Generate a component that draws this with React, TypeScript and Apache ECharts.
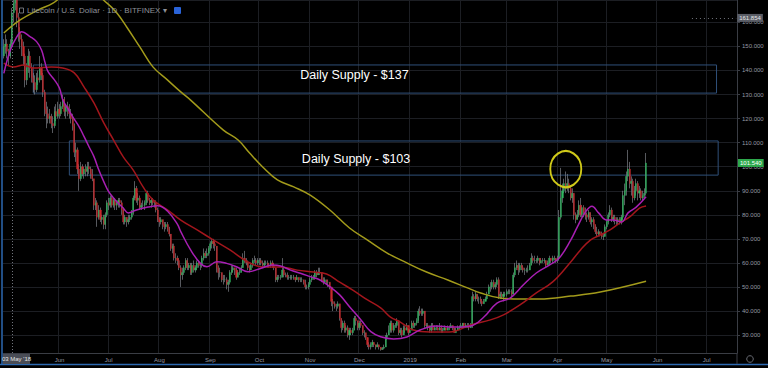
import React, { useEffect, useRef } from "react";
import * as echarts from "echarts";

// ---------- axis range ----------
const FIRST_DAY = "2018-04-28";
const LAST_DAY = "2019-07-19";
const Y_MIN = 22.54;
const Y_MAX = 169.31;

// month tick labels on the time axis
const monthTicks: [string, string][] = [
  ["2018-06-01", "Jun"], ["2018-07-01", "Jul"], ["2018-08-01", "Aug"], ["2018-09-01", "Sep"],
  ["2018-10-01", "Oct"], ["2018-11-01", "Nov"], ["2018-12-01", "Dec"], ["2019-01-01", "2019"],
  ["2019-02-01", "Feb"], ["2019-03-01", "Mar"], ["2019-04-01", "Apr"], ["2019-05-01", "May"],
  ["2019-06-01", "Jun"], ["2019-07-01", "Jul"],
];

// ---------- daily candles, starting 2018-04-28 (open = previous close) ----------
const firstOpen = 146;
const closes: number[] = [
  // Apr 28 - May 2 2018
  150, 151, 148, 146, 151,
  // May
  164, 168, 170, 162, 156, 153, 150, 146, 136, 141, 146, 141, 137, 135, 132, 137, 136, 141, 138, 131, 124, 122, 120, 121, 118, 117, 123, 121, 124,
  // Jun
  122, 125, 128, 123, 125, 124, 122, 120, 117, 106, 107, 99, 95, 100, 97, 99, 98, 100, 99, 97, 95, 84, 85, 79, 82, 78, 79, 76, 80, 85,
  // Jul
  84, 87, 84, 86, 84, 85, 86, 85, 82, 77, 79, 77, 78, 79, 81, 87, 91, 86, 87, 83, 84, 84, 85, 89, 86, 85, 86, 85, 85, 82, 78,
  // Aug
  77, 78, 76, 75, 76, 74, 72, 66, 67, 62, 62, 61, 58, 55, 56, 58, 61, 58, 59, 56, 59, 57, 58, 60, 59, 59, 62, 64, 63, 64, 66,
  // Sep
  68, 69, 68, 67, 58, 56, 56, 53, 53, 53, 51, 52, 56, 57, 58, 57, 54, 56, 56, 58, 62, 61, 60, 58, 57, 59, 61, 61, 60, 61,
  // Oct
  61, 60, 59, 60, 60, 59, 59, 60, 59, 58, 53, 54, 54, 54, 57, 55, 55, 54, 54, 54, 54, 54, 53, 54, 53, 53, 53, 52, 50, 50, 51,
  // Nov
  53, 54, 54, 56, 55, 56, 56, 53, 52, 53, 52, 52, 50, 44, 43, 42, 42, 43, 37, 33, 35, 32, 33, 30, 32, 31, 32, 37, 36, 33,
  // Dec
  35, 34, 31, 31, 29, 26, 25, 26, 27, 26, 25, 26, 25, 24, 24.5, 25, 29, 30, 32, 35, 32, 34, 34, 36, 31, 32, 30, 33, 32, 34, 31,
  // Jan 2019
  32, 35, 34, 35, 36, 40, 39, 39, 40, 34, 34, 33, 32, 34, 32, 33, 33, 32, 33, 32, 32, 33, 32, 33, 33, 34, 33, 31, 32, 33, 33,
  // Feb
  34, 35, 33, 34, 34, 33, 34, 46, 45, 47, 45, 45, 44, 43, 44, 45, 47, 50, 50, 52, 50, 51, 53, 46, 47, 46, 47, 47,
  // Mar
  48, 48, 48, 47, 55, 58, 59, 57, 59, 58, 57, 57, 57, 57, 59, 62, 61, 61, 61, 62, 60, 61, 61, 61, 59, 60, 62, 61, 62, 62, 61,
  // Apr
  62, 79, 87, 90, 93, 91, 93, 91, 87, 89, 80, 78, 80, 84, 80, 83, 81, 80, 79, 81, 77, 78, 76, 73, 72, 73, 72, 71, 71, 75,
  // May
  77, 80, 82, 78, 79, 78, 77, 78, 77, 79, 88, 90, 96, 99, 93, 94, 87, 90, 93, 89, 90, 87, 88, 89, 101.54,
];
const highs: number[] = [
  153, 155, 153, 149, 153,
  166, 172, 175, 171, 164, 158, 155, 152, 147, 143, 149, 148, 143, 139, 138, 139, 140, 146, 143, 139, 132, 127, 125, 124, 122, 121, 125, 126, 127,
  126, 127, 130, 129, 126, 127, 126, 124, 122, 118, 110, 108, 101, 102, 101, 100, 101, 102, 102, 100, 99, 95, 87, 86, 84, 83, 80, 80, 81, 86,
  87, 88, 88, 87, 87, 86, 87, 87, 86, 83, 80, 79, 80, 80, 82, 88, 94, 92, 89, 88, 85, 86, 86, 90, 90, 87, 87, 87, 86, 86, 83,
  79, 79, 78, 77, 77, 77, 75, 72, 68, 68, 64, 63, 62, 59, 58, 59, 62, 62, 60, 60, 60, 61, 59, 61, 61, 60, 63, 66, 65, 66, 67,
  69, 70, 70, 69, 67, 59, 58, 56, 55, 55, 54, 53, 57, 59, 59, 58, 58, 57, 58, 59, 64, 65, 62, 61, 59, 60, 62, 63, 62, 62,
  62, 62, 61, 61, 61, 61, 60, 61, 61, 60, 58, 55, 55, 55, 62, 58, 56, 56, 55, 55, 55, 55, 54, 55, 54, 54, 54, 53, 53, 51, 52,
  54, 55, 55, 57, 57, 58, 58, 56, 54, 54, 53, 53, 52, 50, 45, 44, 43, 44, 43, 37, 36, 36, 34, 34, 33, 33, 33, 38, 38, 36,
  36, 36, 34, 32, 31, 29, 27, 27, 28, 27, 26, 27, 26, 25, 25, 26, 30, 31, 34, 36, 36, 35, 35, 37, 36, 33, 33, 34, 34, 35, 34,
  33, 36, 36, 35, 37, 41, 42, 41, 41, 40, 35, 35, 34, 35, 35, 34, 34, 34, 35, 34, 33, 34, 33, 34, 34, 35, 34, 33, 33, 34, 34,
  35, 35, 35, 35, 35, 35, 35, 48, 47, 48, 47, 46, 46, 45, 45, 46, 48, 51, 52, 53, 53, 52, 54, 54, 48, 48, 48, 48,
  49, 49, 49, 49, 56, 60, 61, 60, 60, 60, 59, 58, 58, 59, 60, 64, 63, 63, 62, 63, 62, 62, 62, 62, 61, 61, 63, 62, 63, 63, 62,
  63, 82, 99.5, 93, 95, 98, 97, 95, 92, 91, 89, 81, 82, 86, 87, 84, 84, 83, 81, 82, 81, 79, 79, 76, 75, 74, 73, 73, 72, 76,
  78, 81, 84, 83, 80, 80, 79, 79, 79, 80, 90, 93, 98, 107, 102, 96, 95, 92, 95, 94, 92, 91, 90, 91, 105.7,
];
const lows: number[] = [
  145, 147, 145, 142, 145,
  150, 160, 165, 158, 152, 149, 146, 142, 133, 134, 139, 137, 135, 131, 130, 131, 134, 135, 136, 129, 121, 116, 118, 118, 116, 114, 116, 119, 120,
  120, 121, 124, 121, 120, 121, 120, 118, 115, 104, 102, 97, 90, 94, 96, 95, 96, 96, 97, 95, 94, 82, 82, 75, 78, 77, 76, 74, 74, 79,
  82, 83, 83, 83, 82, 82, 83, 83, 80, 76, 76, 75, 76, 77, 78, 80, 86, 85, 84, 82, 82, 83, 82, 84, 85, 84, 83, 84, 83, 81, 77,
  75, 76, 74, 73, 74, 73, 71, 65, 64, 61, 60, 59, 57, 50, 53, 55, 57, 57, 57, 55, 55, 56, 56, 57, 58, 57, 58, 61, 62, 62, 63,
  65, 66, 66, 65, 56, 53, 54, 52, 51, 52, 49, 48, 51, 55, 56, 55, 53, 54, 55, 56, 58, 60, 59, 57, 56, 57, 58, 60, 59, 59,
  59, 59, 58, 58, 59, 58, 58, 58, 58, 57, 52, 52, 53, 53, 54, 54, 54, 53, 53, 53, 53, 53, 52, 53, 52, 52, 52, 51, 49, 49, 49,
  51, 52, 53, 53, 54, 55, 55, 52, 51, 52, 51, 50, 49, 42, 40, 41, 40, 41, 36, 31, 32, 31, 31, 29, 28, 30, 30, 32, 34, 32,
  32, 33, 30, 29, 28, 25, 24, 24, 25, 25, 24, 25, 24, 23.5, 23.8, 24, 25, 28, 30, 31, 31, 31, 33, 33, 30, 30, 29, 30, 31, 32, 30,
  31, 32, 33, 33, 34, 35, 38, 38, 38, 33, 33, 32, 31, 31, 32, 32, 32, 32, 32, 31, 31, 32, 32, 32, 32, 33, 32, 31, 31, 32, 32,
  33, 33, 33, 33, 33, 32, 33, 33, 44, 44, 44, 43, 43, 42, 43, 44, 45, 47, 48, 49, 49, 49, 50, 45, 45, 45, 44, 46,
  46, 47, 47, 46, 47, 54, 57, 55, 56, 57, 56, 55, 56, 56, 57, 59, 60, 60, 60, 60, 59, 60, 60, 60, 58, 59, 59, 60, 60, 61, 60,
  60, 61, 78, 85, 89, 89, 90, 89, 86, 85, 78, 76.5, 78, 79, 79, 79, 79, 78, 77, 78, 76, 75, 74, 72, 71, 71, 71, 70, 69.5, 71,
  74, 76, 79, 77, 77, 76, 75.5, 76, 76, 76, 78, 84, 88, 94, 91, 88, 85, 86, 88, 86, 87, 86, 86, 87, 88,
];

// ---------- moving averages ----------
const maFast: [string, number][] = [
  ["2018-04-28", 138.8], ["2018-05-02", 148.5], ["2018-05-06", 154.1], ["2018-05-09", 156.1], ["2018-05-14", 154.1],
  ["2018-05-18", 152], ["2018-05-21", 148.5], ["2018-05-23", 143.7], ["2018-05-25", 139.5], ["2018-05-29", 136],
  ["2018-06-01", 132.6], ["2018-06-03", 127.7], ["2018-06-06", 124.3], ["2018-06-09", 120.8], ["2018-06-13", 116.6],
  ["2018-06-16", 112.5], ["2018-06-19", 108.3], ["2018-06-22", 104.2], ["2018-06-25", 98.6], ["2018-06-28", 93.8],
  ["2018-07-01", 89.6], ["2018-07-05", 86.2], ["2018-07-10", 82.7], ["2018-07-13", 80.8], ["2018-07-18", 82],
  ["2018-07-25", 83.2], ["2018-07-31", 83.8], ["2018-08-06", 81.5], ["2018-08-12", 76], ["2018-08-14", 73],
  ["2018-08-20", 65.4], ["2018-08-26", 59.8], ["2018-08-30", 58.4], ["2018-09-05", 60.5], ["2018-09-11", 59.8],
  ["2018-09-17", 58.4], ["2018-09-24", 56.3], ["2018-10-02", 57.8], ["2018-10-09", 59.1], ["2018-10-14", 58.7],
  ["2018-10-20", 57], ["2018-10-26", 55.7], ["2018-11-01", 54.3], ["2018-11-07", 52.9], ["2018-11-13", 50.1],
  ["2018-11-19", 46.7], ["2018-11-25", 41.8], ["2018-12-02", 36.3], ["2018-12-08", 31.4], ["2018-12-14", 29.3],
  ["2018-12-22", 28.4], ["2018-12-30", 29.2], ["2019-01-07", 32.1], ["2019-01-17", 33.8], ["2019-01-27", 33.3],
  ["2019-02-07", 33.8], ["2019-02-15", 37.5], ["2019-02-23", 43.3], ["2019-03-03", 45.4], ["2019-03-11", 50.8],
  ["2019-03-19", 55.8], ["2019-03-27", 59.1], ["2019-04-02", 62], ["2019-04-09", 69.5], ["2019-04-13", 74.9],
  ["2019-04-18", 81.2], ["2019-04-22", 83.6], ["2019-04-26", 80.8], ["2019-05-01", 77.8], ["2019-05-05", 77.8],
  ["2019-05-10", 77], ["2019-05-14", 80.8], ["2019-05-19", 83.2], ["2019-05-25", 87.5],
];
const maMid: [string, number][] = [
  ["2018-04-28", 143.1], ["2018-05-04", 141.5], ["2018-05-10", 142.3], ["2018-05-16", 141], ["2018-05-27", 141.5],
  ["2018-06-03", 141], ["2018-06-10", 139], ["2018-06-16", 133.1], ["2018-06-22", 126.5], ["2018-06-28", 118.2],
  ["2018-07-04", 111.1], ["2018-07-10", 104], ["2018-07-16", 98.6], ["2018-07-22", 91.6], ["2018-07-28", 86.2],
  ["2018-08-06", 82], ["2018-08-14", 77.8], ["2018-08-24", 73.7], ["2018-09-03", 69.5], ["2018-09-13", 65.4],
  ["2018-09-24", 60.4], ["2018-10-03", 58.3], ["2018-10-14", 58.3], ["2018-10-24", 57], ["2018-11-03", 56.2],
  ["2018-11-11", 55.4], ["2018-11-19", 52], ["2018-11-27", 48.7], ["2018-12-06", 44.6], ["2018-12-14", 41.3],
  ["2018-12-20", 37.5], ["2018-12-26", 35.4], ["2019-01-03", 32.1], ["2019-01-13", 31.3], ["2019-01-25", 31.3],
  ["2019-02-07", 34.2], ["2019-02-19", 36.3], ["2019-02-27", 38.4], ["2019-03-09", 42.5], ["2019-03-19", 47.5],
  ["2019-03-29", 52.1], ["2019-04-09", 60.4], ["2019-04-15", 65.4], ["2019-04-21", 69.5], ["2019-04-27", 71.6],
  ["2019-05-03", 73.7], ["2019-05-09", 76.6], ["2019-05-15", 79.1], ["2019-05-21", 82.8], ["2019-05-25", 83.7],
];
const maSlow: [string, number][] = [
  ["2018-04-28", 155.6], ["2018-05-08", 161], ["2018-05-19", 165.2], ["2018-05-28", 168], ["2018-06-14", 176],
  ["2018-06-30", 168], ["2018-07-06", 163.9], ["2018-07-12", 158.1], ["2018-07-20", 149.8], ["2018-07-28", 141.5],
  ["2018-08-06", 136], ["2018-08-14", 131.1], ["2018-08-20", 127.7], ["2018-09-09", 115.2], ["2018-09-18", 111.1],
  ["2018-09-25", 105.7], ["2018-10-03", 99.9], ["2018-10-12", 94.5], ["2018-10-22", 91.6], ["2018-11-01", 88.2],
  ["2018-11-13", 82], ["2018-11-25", 74.5], ["2018-12-06", 69.5], ["2018-12-18", 64.1], ["2018-12-30", 60],
  ["2019-01-11", 56.2], ["2019-01-24", 52.9], ["2019-02-05", 49.6], ["2019-02-13", 47.5], ["2019-02-25", 45.4],
  ["2019-03-09", 45], ["2019-03-21", 45], ["2019-04-09", 46.2], ["2019-04-27", 47.9], ["2019-05-25", 52.4],
];

// ---------- annotations ----------
const zoneFrom = ["2018-05-16", "2018-06-07"];
const zoneTo = ["2019-07-07", "2019-07-08"];
const zoneTop = [142.3, 110.7];
const zoneBottom = [130.6, 96.5];
const zoneLabels = ["Daily Supply - $137", "Daily Supply - $103"];
const zoneLabelAt: [string, number][] = [["2018-11-28", 138], ["2018-11-29", 103.2]];
const circleAt: [string, number] = ["2019-04-06", 99];
const crosshairDate = "2018-05-03";
const crosshairText = "03 May '18";
const highMark = 161.854;
const lastPrice = 101.54;

// ---------- derived tables ----------
const categories: string[] = [];
for (let t = Date.UTC(2018, 3, 28); t <= Date.UTC(2019, 6, 19); t += 86400000) {
  categories.push(new Date(t).toISOString().slice(0, 10));
}
const tickMap = new Map(monthTicks);
const opens = closes.map((_, i) => (i === 0 ? firstOpen : closes[i - 1]));
const wickData = closes.map((c, i) => [opens[i], c, lows[i], highs[i]]);
const bodyData = closes.map((c, i) => [opens[i], c, Math.min(opens[i], c), Math.max(opens[i], c)]);

const FONT = '"Liberation Sans", Arial, sans-serif';
const AXIS_TXT = "#9598a0";
const GRID_CLR = "#1c1e23";
const AXIS_CLR = "#3a3d44";
const WICK = "#7d8087";
const UP = "#2fb860";
const DOWN = "#c8282c";

const isTick = (_: number, v: string) => tickMap.has(v);

const option: any = {
  animation: false,
  backgroundColor: "#000",
  textStyle: { fontFamily: FONT },
  grid: { left: 3, right: 31, top: 0, bottom: 15 },
  xAxis: {
    type: "category",
    data: categories,
    boundaryGap: true,
    axisLine: { show: true, lineStyle: { color: AXIS_CLR } },
    axisTick: { show: false },
    axisLabel: {
      interval: isTick,
      formatter: (v: string) => tickMap.get(v) ?? "",
      color: AXIS_TXT,
      fontSize: 6,
      margin: 4,
    },
    splitLine: { show: true, interval: isTick, lineStyle: { color: GRID_CLR } },
  },
  yAxis: {
    type: "value",
    position: "right",
    min: Y_MIN,
    max: Y_MAX,
    splitNumber: 14,
    minInterval: 10,
    maxInterval: 10,
    axisLine: { show: true, lineStyle: { color: AXIS_CLR } },
    axisTick: { show: true, length: 3, lineStyle: { color: AXIS_CLR } },
    axisLabel: {
      color: AXIS_TXT,
      fontSize: 6,
      margin: 5,
      showMinLabel: false,
      showMaxLabel: false,
      formatter: (v: number) => v.toFixed(3),
    },
    splitLine: { show: true, lineStyle: { color: GRID_CLR } },
  },
  series: [
    {
      type: "candlestick",
      name: "wick",
      data: wickData,
      barWidth: 0.8,
      itemStyle: { color: WICK, color0: WICK, borderColor: WICK, borderColor0: WICK, borderWidth: 0.7 },
      markArea: {
        silent: true,
        itemStyle: { color: "rgba(0,0,0,0)", borderColor: "#2f5079", borderWidth: 1 },
        data: zoneFrom.map((f, i) => [
          { xAxis: f, yAxis: zoneTop[i] },
          { xAxis: zoneTo[i], yAxis: zoneBottom[i] },
        ]),
      },
      markLine: {
        silent: true,
        symbol: ["none", "none"],
        animation: false,
        data: [
          {
            xAxis: crosshairDate,
            lineStyle: { type: [1, 2], color: "#70737b", width: 1 },
            label: { show: false },
          },
          [
            {
              coord: ["2019-06-22", highMark],
              lineStyle: { type: [1, 3], color: "#70737b", width: 1 },
              label: {
                show: true,
                position: "end",
                distance: 1,
                formatter: highMark.toFixed(3),
                backgroundColor: "#5a5d66",
                color: "#e8e8e8",
                fontSize: 6,
                padding: [1, 2],
              },
            },
            { coord: [LAST_DAY, highMark] },
          ],
          {
            yAxis: lastPrice,
            lineStyle: { color: "rgba(0,0,0,0)", width: 0 },
            label: {
              show: true,
              position: "end",
              distance: 1,
              formatter: lastPrice.toFixed(3),
              backgroundColor: "#2da84c",
              color: "#ffffff",
              fontSize: 6,
              padding: [1, 2],
            },
          },
        ],
      },
    },
    {
      type: "candlestick",
      name: "body",
      data: bodyData,
      barWidth: 1.6,
      itemStyle: { color: UP, color0: DOWN, borderColor: UP, borderColor0: DOWN, borderWidth: 0.3 },
    },
    {
      type: "line",
      name: "slow",
      data: maSlow,
      smooth: 0.4,
      showSymbol: false,
      lineStyle: { color: "#a39b1b", width: 1.5 },
      z: 4,
    },
    {
      type: "line",
      name: "mid",
      data: maMid,
      smooth: 0.4,
      showSymbol: false,
      lineStyle: { color: "#a3161c", width: 1.5 },
      z: 4,
    },
    {
      type: "line",
      name: "fast",
      data: maFast,
      smooth: 0.4,
      showSymbol: false,
      lineStyle: { color: "#a81fb3", width: 1.5 },
      z: 5,
      markPoint: {
        silent: true,
        animation: false,
        data: [
          {
            coord: circleAt,
            symbol: "circle",
            symbolSize: [31, 36],
            itemStyle: { color: "rgba(0,0,0,0)", borderColor: "#cfc919", borderWidth: 2 },
            label: { show: false },
          },
          ...zoneLabels.map((t, i) => ({
            coord: zoneLabelAt[i],
            symbol: "circle",
            symbolSize: 1,
            itemStyle: { color: "rgba(0,0,0,0)" },
            label: {
              show: true,
              position: "inside",
              formatter: t,
              color: "#ffffff",
              fontSize: 12.5,
              fontFamily: FONT,
            },
          })),
        ],
      },
    },
  ],
};

export default function App() {
  const ref = useRef<HTMLDivElement>(null);
  useEffect(() => {
    const chart = echarts.init(ref.current!, undefined, { renderer: "svg" });
    chart.setOption(option);
    const px = chart.convertToPixel({ xAxisIndex: 0 }, crosshairDate) as number;
    const boxW = 27;
    const boxX = Math.max(px - boxW / 2, 3);
    chart.setOption({
      graphic: [
        // frame
        { type: "line", shape: { x1: 2, y1: 0, x2: 2, y2: 365 }, style: { stroke: "#2d69b0", lineWidth: 1.5 }, z: 10 },
        { type: "line", shape: { x1: 0, y1: 364.5, x2: 768, y2: 364.5 }, style: { stroke: "#2d69b0", lineWidth: 1.5 }, z: 10 },
        { type: "line", shape: { x1: 737, y1: 353, x2: 737, y2: 364 }, style: { stroke: AXIS_CLR, lineWidth: 1 }, z: 10 },
        { type: "circle", shape: { cx: 750, cy: 359, r: 3.3 }, style: { fill: "none", stroke: "#6a6d75", lineWidth: 1 }, z: 10 },
        // title
        { type: "rect", shape: { x: 19.5, y: 8, width: 4, height: 5 }, style: { fill: "none", stroke: "#8a8d95", lineWidth: 0.8 }, z: 10 },
        {
          type: "text",
          x: 27,
          y: 10.5,
          style: {
            text: "Litecoin / U.S. Dollar · 1D · BITFINEX ▾",
            fill: "#8d9098",
            font: `8px ${FONT}`,
            verticalAlign: "middle",
          },
          z: 10,
        },
        { type: "rect", shape: { x: 174, y: 7, width: 7, height: 7, r: 1 }, style: { fill: "#2a63d8" }, z: 10 },
        // crosshair date box
        { type: "rect", shape: { x: boxX, y: 354, width: boxW, height: 10 }, style: { fill: "#4a4d56" }, z: 10 },
        {
          type: "text",
          x: boxX + boxW / 2,
          y: 359,
          style: {
            text: crosshairText,
            fill: "#e4e4e4",
            font: `6px ${FONT}`,
            align: "center",
            verticalAlign: "middle",
          },
          z: 11,
        },
      ],
    });
    return () => chart.dispose();
  }, []);
  return (
    <div
      ref={ref}
      style={{ position: "fixed", left: 0, top: 0, width: 768, height: 368, background: "#000" }}
    />
  );
}
